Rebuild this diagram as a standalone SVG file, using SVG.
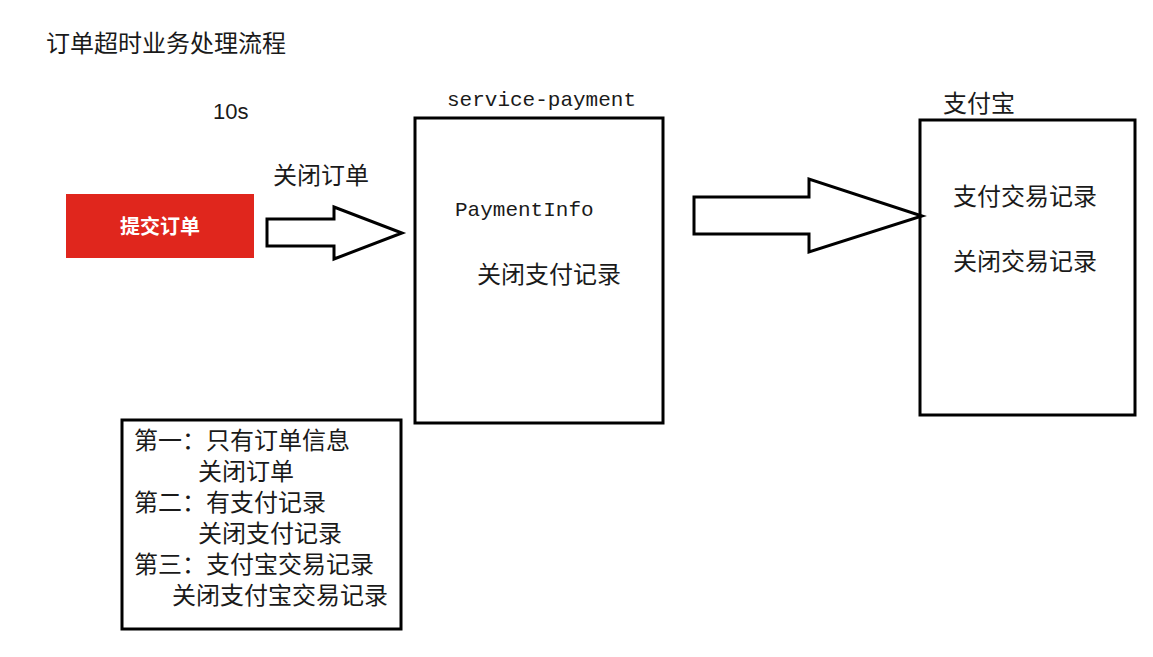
<svg xmlns="http://www.w3.org/2000/svg" width="1153" height="657" viewBox="0 0 1153 657">
<style>
.t{font-family:"Liberation Sans","Noto Sans CJK SC",sans-serif;fill:#1a1a1a;font-size:24px}
.m{font-family:"Liberation Mono","Noto Sans CJK SC",monospace;fill:#1a1a1a;font-size:21px}
.box{fill:#fff;stroke:#000;stroke-width:3}
.arrow{fill:#fff;stroke:#000;stroke-width:3;stroke-linejoin:miter}
</style>
<rect width="1153" height="657" fill="#fff"/>
<text class="t" x="46" y="52">订单超时业务处理流程</text>
<text x="213" y="119" font-family="'Liberation Sans',sans-serif" font-size="22" fill="#1a1a1a">10s</text>
<g id="submit">
<rect x="66" y="194" width="188" height="64" fill="#e0261d"/>
<text x="160" y="234" text-anchor="middle" font-family="'Noto Sans CJK SC',sans-serif" font-weight="bold" font-size="20" fill="#fff">提交订单</text>
</g>
<g id="service-payment">
<text class="m" x="447" y="106">service-payment</text>
<rect class="box" x="415" y="118" width="248" height="305"/>
<text class="m" x="455" y="216">PaymentInfo</text>
<text class="t" x="477" y="283">关闭支付记录</text>
</g>
<g id="alipay">
<text class="t" x="943" y="112">支付宝</text>
<rect class="box" x="920" y="120" width="215" height="295"/>
<text class="t" x="953" y="205">支付交易记录</text>
<text class="t" x="953" y="270">关闭交易记录</text>
</g>
<g id="notes">
<rect class="box" x="122" y="420" width="279" height="209"/>
<text class="t" x="134" y="449">第一：只有订单信息</text>
<text class="t" x="198" y="480">关闭订单</text>
<text class="t" x="134" y="511">第二：有支付记录</text>
<text class="t" x="198" y="542">关闭支付记录</text>
<text class="t" x="134" y="573">第三：支付宝交易记录</text>
<text class="t" x="172" y="604">关闭支付宝交易记录</text>
</g>
<g id="connectors">
<polygon class="arrow" points="267,219 334,219 334,207 402,233 334,259 334,246 267,246"/>
<text class="t" x="273" y="184">关闭订单</text>
<polygon class="arrow" points="694,197 809,197 809,179 922,216 809,252 809,234 694,234"/>
</g>
</svg>
